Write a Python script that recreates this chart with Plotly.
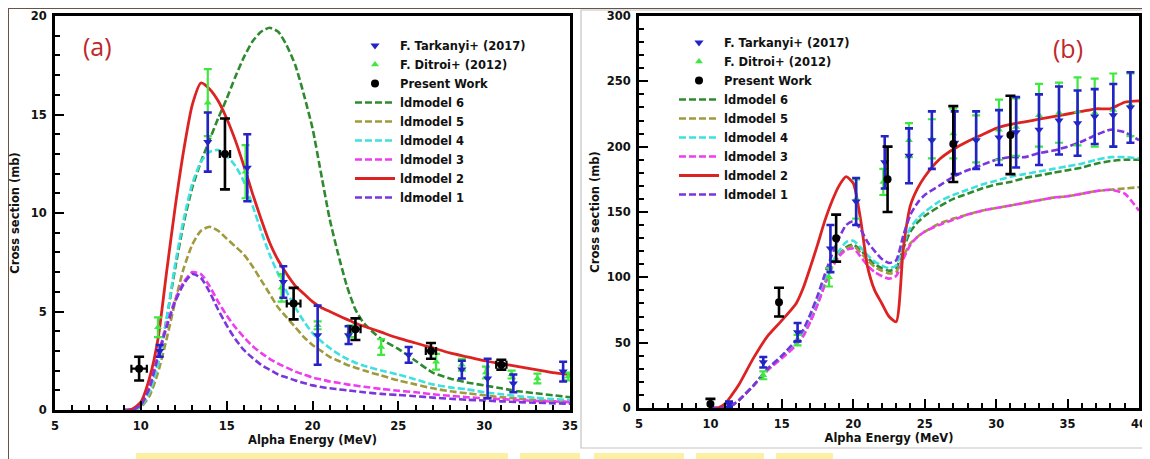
import plotly.graph_objects as go

# ---------------- panel (a) data ----------------
E_a = [9, 9.5, 10, 10.5, 11, 11.5, 12, 12.5, 13, 13.5, 14, 14.5, 15, 15.5, 16, 16.5, 17, 17.5,
       18, 18.5, 19, 19.5, 20, 20.5, 21, 21.5, 22, 22.5, 23, 24, 25, 26, 27, 28, 29, 30, 31, 32,
       33, 34, 35]
ldm6_a = [0, 0, 0.2, 0.9, 2.4, 4.6, 7.2, 9.5, 11.3, 12.6, 13.7, 14.8, 15.8, 16.9, 17.9, 18.7, 19.2,
          19.4, 19.2, 18.5, 17.5, 16.0, 14.3, 12.0, 9.7, 7.9, 6.3, 5.1, 4.4, 3.6, 3.1, 2.5, 1.9,
          1.6, 1.4, 1.25, 1.1, 0.95, 0.85, 0.75, 0.65]
ldm5_a = [0, 0, 0.15, 0.7, 1.9, 3.6, 5.5, 7.2, 8.4, 9.1, 9.3, 9.1, 8.7, 8.3, 7.9, 7.3, 6.6, 5.9,
          5.2, 4.7, 4.2, 3.7, 3.3, 3.0, 2.7, 2.5, 2.3, 2.15, 2.0, 1.75, 1.5, 1.3, 1.1, 0.95, 0.85,
          0.75, 0.65, 0.58, 0.5, 0.45, 0.4]
ldm4_a = [0, 0, 0.2, 0.9, 2.3, 4.6, 7.4, 9.7, 11.5, 12.6, 13.1, 13.2, 12.9, 12.4, 11.6, 10.4, 9.1,
          7.9, 6.9, 6.0, 5.2, 4.5, 3.9, 3.5, 3.15, 2.85, 2.6, 2.4, 2.25, 2.0, 1.8, 1.55, 1.3, 1.15,
          1.05, 0.9, 0.8, 0.7, 0.62, 0.55, 0.5]
ldm3_a = [0, 0, 0.3, 1.2, 2.8, 4.3, 5.6, 6.5, 7.0, 6.9, 6.3, 5.5, 4.8, 4.2, 3.7, 3.25, 2.9, 2.6,
          2.35, 2.15, 1.95, 1.8, 1.65, 1.55, 1.45, 1.38, 1.3, 1.24, 1.18, 1.07, 0.98, 0.9, 0.8,
          0.72, 0.65, 0.6, 0.55, 0.5, 0.46, 0.43, 0.4]
ldm2_a = [0, 0.05, 0.4, 1.6, 3.6, 7.0, 10.3, 13.2, 15.5, 16.6, 16.3, 15.7, 14.8, 13.7, 12.4, 11.0,
          9.7, 8.5, 7.6, 6.9, 6.3, 5.9, 5.5, 5.2, 5.0, 4.8, 4.6, 4.4, 4.25, 3.95, 3.65, 3.4, 3.15,
          2.9, 2.7, 2.5, 2.35, 2.2, 2.05, 1.9, 1.8]
ldm1_a = [0, 0, 0.25, 1.1, 2.7, 4.2, 5.5, 6.4, 6.9, 6.7, 6.0, 5.1, 4.3, 3.6, 3.05, 2.65, 2.3, 2.05,
          1.8, 1.65, 1.5, 1.37, 1.25, 1.17, 1.1, 1.05, 1.0, 0.95, 0.9, 0.82, 0.76, 0.7, 0.63,
          0.57, 0.52, 0.48, 0.44, 0.4, 0.37, 0.34, 0.32]

tark_E_a = [11.1, 13.9, 16.2, 18.3, 20.3, 22.1, 25.6, 28.7, 30.2, 31.7, 34.6]
tark_s_a = [3.0, 13.6, 12.3, 6.5, 3.8, 3.8, 2.8, 2.05, 1.6, 1.35, 1.95]
tark_e_a = [0.3, 1.5, 1.7, 0.8, 1.5, 0.45, 0.4, 0.45, 1.0, 0.45, 0.5]

ditr_E_a = [11.0, 13.9, 16.1, 18.2, 20.3, 22.2, 24.0, 27.2, 28.7, 30.1, 31.6, 33.1, 34.9]
ditr_s_a = [4.2, 15.6, 12.1, 6.2, 4.3, 4.0, 3.2, 2.45, 2.3, 1.9, 1.8, 1.6, 1.7]
ditr_e_a = [0.5, 1.7, 1.35, 0.7, 0.2, 0.3, 0.4, 0.4, 0.3, 0.3, 0.2, 0.25, 0.2]

pw_E_a = [9.9, 14.9, 18.9, 22.5, 26.9, 31.0]
pw_s_a = [2.1, 13.0, 5.4, 4.1, 3.0, 2.3]
pw_e_a = [0.6, 1.8, 0.8, 0.55, 0.4, 0.25]
pw_xe_a = [0.45, 0.3, 0.4, 0.3, 0.3, 0.3]

# ---------------- panel (b) data ----------------
E_b = [10, 10.5, 11, 11.5, 12, 13, 14, 15, 16, 16.5, 17, 17.5, 18, 18.5, 19, 19.5, 20, 20.5, 21,
       21.5, 22, 22.5, 23, 23.5, 24, 24.5, 25, 26, 27, 28, 29, 30, 31, 32, 33, 34, 35, 36, 37, 38,
       39, 40]
ldm6_b = [0, 0, 0, 2, 6, 17, 29, 39, 49, 56, 67, 80, 95, 108, 117, 123, 125, 121, 115, 110, 107,
          105, 107, 122, 135, 142, 147, 154, 160, 164, 168, 171, 173, 176, 178, 180, 182, 184,
          187, 189, 190, 190]
ldm5_b = [0, 0, 0, 2, 6, 17, 29, 39, 49, 56, 67, 80, 95, 108, 117, 122, 124, 119, 113, 108, 105,
          103, 104, 116, 126, 131, 135, 141, 145, 148, 151, 153, 155, 157, 159, 161, 162, 164,
          166, 167, 168, 169]
ldm4_b = [0, 0, 0, 2, 6, 17, 30, 40, 51, 58, 70, 83, 98, 111, 120, 127, 128, 123, 117, 112, 109,
          107, 109, 125, 138, 145, 150, 158, 163, 167, 171, 174, 177, 179, 181, 183, 185, 187,
          190, 192, 192, 191]
ldm3_b = [0, 0, 0, 2, 6, 17, 29, 38, 48, 55, 66, 79, 94, 107, 116, 121, 122, 116, 109, 104, 101,
          99, 101, 114, 125, 131, 135, 140, 144, 148, 151, 153, 155, 157, 159, 161, 162, 164,
          166, 167, 164, 151]
ldm2_b = [0, 0, 3, 10, 18, 38, 55, 67, 80, 92, 108, 125, 143, 158, 170, 177, 172, 145, 108, 90,
          80, 70, 66, 122, 155, 168, 177, 190, 198, 204, 209, 214, 217, 219, 221, 223, 225, 227,
          229, 229, 234, 235]
ldm1_b = [0, 0, 0, 2, 6, 17, 30, 40, 52, 60, 72, 86, 102, 117, 130, 140, 143, 137, 127, 120, 114,
          111, 113, 132, 148, 157, 163, 170, 177, 182, 186, 190, 192, 192, 195, 197, 200, 204,
          209, 213, 211, 205]

tark_E_b = [11.3, 13.7, 16.1, 18.4, 20.2, 22.2, 23.9, 25.5, 27.1, 28.6, 30.2, 31.4, 33.0, 34.4,
            35.7, 36.9, 38.2, 39.4]
tark_s_b = [3, 35, 58, 122, 158, 188, 193, 205, 203, 205, 207, 211, 213, 220, 218, 223, 224, 230]
tark_e_b = [2, 4, 7, 18, 18, 20, 21, 22, 24, 22, 21, 27, 27, 26, 25, 21, 24, 27]

ditr_E_b = [13.7, 16.1, 18.3, 20.2, 22.1, 23.9, 25.5, 27.0, 28.6, 30.2, 31.4, 33.0, 34.4, 35.7,
            36.9, 38.2, 39.4]
ditr_s_b = [25, 52, 100, 160, 173, 205, 206, 210, 206, 213, 215, 224, 226, 227, 226, 228, 232]
ditr_e_b = [3, 4, 7, 15, 10, 13, 15, 19, 18, 23, 22, 24, 23, 26, 26, 28, 24]

pw_E_b = [10.0, 14.8, 18.8, 22.4, 27.0, 31.0]
pw_s_b = [3, 81, 130, 175, 202, 209]
pw_e_b = [4, 11, 18, 25, 29, 30]

# ---------------- page geometry ----------------
# The page body keeps the browser's default 8 px margin, so the figure is made
# 8 px smaller and all positions below are given in window pixels.
OFF = 8
W, H = 1150 - OFF, 459 - OFF
def px(x):
    return (x - OFF) / W
def py(y):
    return 1 - (y - OFF) / H

C_TARK = "#2323c8"
C_DITR = "#3ee83e"
C_PW = "#000000"
model_names = ["ldmodel 6", "ldmodel 5", "ldmodel 4", "ldmodel 3", "ldmodel 2", "ldmodel 1"]
model_colors = ["#2f8a2f", "#a09a3c", "#3fe0e0", "#ee3cee", "#dd2222", "#7a35dd"]
model_dash = ["7px,3px", "7px,3px", "7px,3px", "7px,3px", "solid", "7px,3px"]

fig = go.Figure()

def add_panel(xa, ya, leg, E, models, tE, ts, te, dE, ds, de, pE, ps, pe, pxe):
    for i, (name, col, dash, ys) in enumerate(zip(model_names, model_colors, model_dash, models)):
        fig.add_trace(go.Scatter(
            x=E, y=ys, mode="lines", name=name, xaxis=xa, yaxis=ya, legend=leg,
            legendrank=10 + i,
            line=dict(color=col, width=2.8 if dash == "solid" else 2.6, dash=dash,
                      shape="spline", smoothing=0.6)))
    fig.add_trace(go.Scatter(
        x=dE, y=ds, mode="markers", name="F. Ditroi+ (2012)", xaxis=xa, yaxis=ya, legend=leg,
        legendrank=2,
        marker=dict(symbol="triangle-up", size=7, color=C_DITR),
        error_y=dict(type="data", array=de, color=C_DITR, thickness=2.2, width=4)))
    fig.add_trace(go.Scatter(
        x=tE, y=ts, mode="markers", name="F. Tarkanyi+ (2017)", xaxis=xa, yaxis=ya, legend=leg,
        legendrank=1,
        marker=dict(symbol="triangle-down", size=8, color=C_TARK),
        error_y=dict(type="data", array=te, color=C_TARK, thickness=2.6, width=4)))
    ex = dict(type="data", array=pxe, color=C_PW, thickness=2.2, width=4) if pxe else None
    fig.add_trace(go.Scatter(
        x=pE, y=ps, mode="markers", name="Present Work", xaxis=xa, yaxis=ya, legend=leg,
        legendrank=3,
        marker=dict(symbol="circle", size=8, color=C_PW),
        error_y=dict(type="data", array=pe, color=C_PW, thickness=2.6, width=5),
        error_x=ex))

add_panel("x", "y", "legend", E_a, [ldm6_a, ldm5_a, ldm4_a, ldm3_a, ldm2_a, ldm1_a],
          tark_E_a, tark_s_a, tark_e_a, ditr_E_a, ditr_s_a, ditr_e_a,
          pw_E_a, pw_s_a, pw_e_a, pw_xe_a)
add_panel("x2", "y2", "legend2", E_b, [ldm6_b, ldm5_b, ldm4_b, ldm3_b, ldm2_b, ldm1_b],
          tark_E_b, tark_s_b, tark_e_b, ditr_E_b, ditr_s_b, ditr_e_b,
          pw_E_b, pw_s_b, pw_e_b, None)

FONT = "DejaVu Sans"
tickfont = dict(family=FONT, size=11.5, color="#111111", weight="bold")
titlefont = dict(family=FONT, size=11.5, color="#111111", weight="bold")
legfont = dict(family=FONT, size=11.5, color="#111111", weight="bold")

def axis_common(rng, dtick, mdtick, title, standoff, domain, anchor):
    return dict(range=rng, domain=domain, anchor=anchor, dtick=dtick, tick0=0, ticks="inside",
                ticklen=9, tickwidth=2.4, tickcolor="black", showline=True, linecolor="black",
                linewidth=2.8, mirror=True, showgrid=False, zeroline=False, tickfont=tickfont,
                ticklabelstandoff=3, automargin=False,
                minor=dict(dtick=mdtick, ticks="inside", ticklen=5, tickwidth=1.8,
                           tickcolor="black", showgrid=False),
                title=dict(text=title, font=titlefont, standoff=standoff))

fig.update_layout(
    width=W, height=H, margin=dict(l=0, r=0, t=0, b=0, autoexpand=False),
    paper_bgcolor="white", plot_bgcolor="rgba(255,255,255,0)", showlegend=True,
    xaxis=axis_common([5, 35], 5, 1, "Alpha Energy (MeV)", 4, [px(55), px(570)], "y"),
    yaxis=axis_common([0, 20], 5, 1, "Cross section (mb)", 12, [py(410), py(16)], "x"),
    xaxis2=axis_common([5, 40], 5, 1, "Alpha Energy (MeV)", 4, [px(639), px(1139)], "y2"),
    yaxis2=axis_common([0, 300], 50, 10, "Cross section (mb)", 5, [py(408), py(16)], "x2"),
    legend=dict(x=px(350), y=py(31), xanchor="left", yanchor="top", bgcolor="rgba(0,0,0,0)",
                font=legfont, itemwidth=40, tracegroupgap=0),
    legend2=dict(x=px(674), y=py(28), xanchor="left", yanchor="top", bgcolor="rgba(0,0,0,0)",
                 font=legfont, itemwidth=40, tracegroupgap=0),
)

PEACH = "#fbe4d5"
EDGE = "#6b5444"
shapes = [
    dict(type="rect", xref="paper", yref="paper", x0=px(1147), x1=1, y0=0, y1=1,
         fillcolor=PEACH, line=dict(width=0), layer="below"),
    dict(type="line", xref="paper", yref="paper", x0=0, x1=px(1147), y0=1, y1=1,
         line=dict(color=EDGE, width=2), layer="below"),
    dict(type="line", xref="paper", yref="paper", x0=0, x1=0, y0=0, y1=1,
         line=dict(color=EDGE, width=2), layer="below"),
    dict(type="line", xref="paper", yref="paper", x0=px(1147), x1=px(1147), y0=0, y1=1,
         line=dict(color=EDGE, width=1.2), layer="below"),
    dict(type="rect", xref="paper", yref="paper", x0=px(581), x1=px(1145), y0=py(448), y1=py(10),
         fillcolor="rgba(0,0,0,0)", line=dict(color="#c4c4c4", width=1.2), layer="below"),
]
for a, b in [(136, 508), (520, 580), (594, 684), (696, 764), (776, 833)]:
    shapes.append(dict(type="rect", xref="paper", yref="paper", x0=px(a), x1=px(b),
                       y0=0, y1=py(453), fillcolor="#fdf0a4", line=dict(width=0), layer="below"))
fig.update_layout(shapes=shapes)

fig.add_annotation(text="(a)", xref="paper", yref="paper", x=px(97), y=py(46),
                   xanchor="center", yanchor="middle", showarrow=False,
                   font=dict(family="Open Sans", size=25, color="#c0282c"))
fig.add_annotation(text="(b)", xref="paper", yref="paper", x=px(1068), y=py(48),
                   xanchor="center", yanchor="middle", showarrow=False,
                   font=dict(family="Open Sans", size=25, color="#c0282c"))

fig.write_html("out.html")
